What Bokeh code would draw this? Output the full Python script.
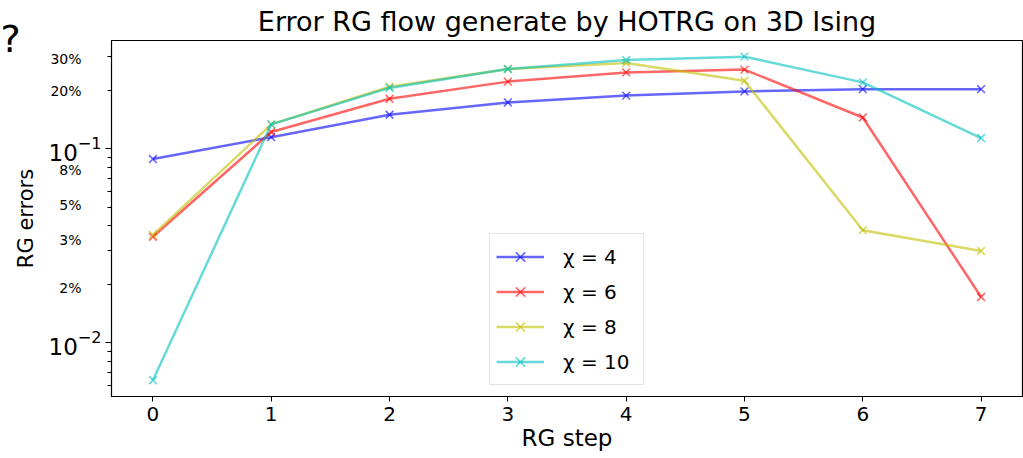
from bokeh.plotting import figure
from bokeh.models import (Range1d, FixedTicker, LogAxis, Legend, LegendItem,
                          Title, Grid)
from bokeh.embed import file_html
from bokeh.resources import INLINE

# ---- data ----
steps = [0, 1, 2, 3, 4, 5, 6, 7]
err_chi4 = [0.0885, 0.1148, 0.1497, 0.1734, 0.188, 0.1977, 0.203, 0.203]
err_chi6 = [0.0352, 0.122, 0.181, 0.222, 0.2477, 0.256, 0.145, 0.0172]
err_chi8 = [0.0360, 0.1336, 0.209, 0.258, 0.277, 0.2244, 0.038, 0.0297]
err_chi10 = [0.0064, 0.1336, 0.206, 0.258, 0.287, 0.2986, 0.22, 0.1136]
series_labels = ["χ = 4", "χ = 6", "χ = 8", "χ = 10"]
series_colors = ["#0000ff", "#ff0000", "#bfbf00", "#00bfbf"]
x_ticks = [0, 1, 2, 3, 4, 5, 6, 7]
y_major_ticks = [0.01, 0.1]
y_minor_ticks = [0.006, 0.007, 0.008, 0.009, 0.02, 0.03, 0.04, 0.05, 0.06,
                 0.07, 0.08, 0.09, 0.2, 0.3]
pct_labels = ["30%", "20%", "8%", "5%", "3%", "2%"]
pct_label_y = [0.290, 0.199, 0.0774, 0.0511, 0.0337, 0.0192]

FONT = "DejaVu Sans"

p = figure(width=1023, height=458,
           x_range=Range1d(-0.35, 7.35), y_range=Range1d(0.00528, 0.3617),
           y_axis_type="log", y_axis_location=None,
           output_backend="svg", toolbar_location=None,
           min_border_left=111, min_border_right=1, min_border_top=40,
           min_border_bottom=62,
           title="Error RG flow generate by HOTRG on 3D Ising")

p.title.text_font = FONT
p.title.text_font_size = "27px"
p.title.text_font_style = "normal"
p.title.align = "center"
p.title.text_color = "black"
p.title.standoff = 3

for g in p.select(type=Grid):
    g.visible = False
p.outline_line_color = "black"
p.outline_line_width = 1.2
p.background_fill_color = "white"
p.border_fill_color = "white"

# x axis
xa = p.xaxis[0]
xa.ticker = FixedTicker(ticks=x_ticks, minor_ticks=[])
xa.axis_line_color = "black"
xa.major_tick_line_color = "black"
xa.major_tick_in = 0
xa.major_tick_out = 5
xa.major_label_text_font = FONT
xa.major_label_text_font_size = "20px"
xa.major_label_text_color = "black"
xa.major_label_standoff = 5
xa.axis_label = "RG step"
xa.axis_label_text_font = FONT
xa.axis_label_text_font_style = "normal"
xa.axis_label_text_font_size = "23px"
xa.axis_label_text_color = "black"
xa.axis_label_standoff = 1

# y axis with powers of ten and minor ticks
ya = LogAxis(ticker=FixedTicker(ticks=y_major_ticks, minor_ticks=y_minor_ticks))
ya.axis_line_color = "black"
ya.major_tick_line_color = "black"
ya.minor_tick_line_color = "black"
ya.major_tick_in = 0
ya.major_tick_out = 6
ya.minor_tick_in = 0
ya.minor_tick_out = 4
ya.major_label_text_font = FONT
ya.major_label_text_font_size = "23px"
ya.major_label_text_color = "black"
ya.major_label_standoff = 4
p.add_layout(ya, "left")

# percentage labels + axis title
pa = LogAxis(ticker=FixedTicker(ticks=pct_label_y, minor_ticks=[]),
             major_label_overrides={v: t for v, t in zip(pct_label_y, pct_labels)})
pa.axis_line_color = None
pa.major_tick_line_color = None
pa.minor_tick_line_color = None
pa.major_tick_in = 0
pa.major_tick_out = 0
pa.minor_tick_out = 0
pa.minor_tick_in = 0
pa.major_label_text_font = FONT
pa.major_label_text_font_size = "14px"
pa.major_label_text_color = "black"
pa.major_label_standoff = -36
pa.axis_label = "RG errors"
pa.axis_label_text_font = FONT
pa.axis_label_text_font_style = "normal"
pa.axis_label_text_font_size = "21px"
pa.axis_label_text_color = "black"
pa.axis_label_standoff = 9
p.add_layout(pa, "left")

# series
all_series = [err_chi4, err_chi6, err_chi8, err_chi10]
items = []
for vals, lab, col in zip(all_series, series_labels, series_colors):
    r1 = p.line(steps, vals, line_color=col, line_alpha=0.6, line_width=2.5)
    r2 = p.scatter(steps, vals, marker="x", size=11, line_color=col,
                   line_alpha=0.6, line_width=1.6)
    items.append(LegendItem(label=lab, renderers=[r1, r2]))

legend = Legend(items=items, location=(378, 11))
legend.label_text_font = FONT
legend.label_text_font_size = "20px"
legend.label_text_color = "black"
legend.glyph_width = 48
legend.glyph_height = 33
legend.label_height = 33
legend.label_width = 74
legend.label_standoff = 19
legend.spacing = 2
legend.padding = 6
legend.margin = 0
legend.border_line_color = "#cccccc"
legend.border_line_width = 1
legend.background_fill_alpha = 0.8
p.add_layout(legend, "center")

# stray "?" mark at the top-left corner
q = Title(text="?", align="left", offset=-111, standoff=-44,
          vertical_align="top", text_font=FONT, text_font_size="38px",
          text_font_style="normal", text_color="black")
p.add_layout(q, "above")

open("out.html", "w").write(file_html(p, INLINE))
